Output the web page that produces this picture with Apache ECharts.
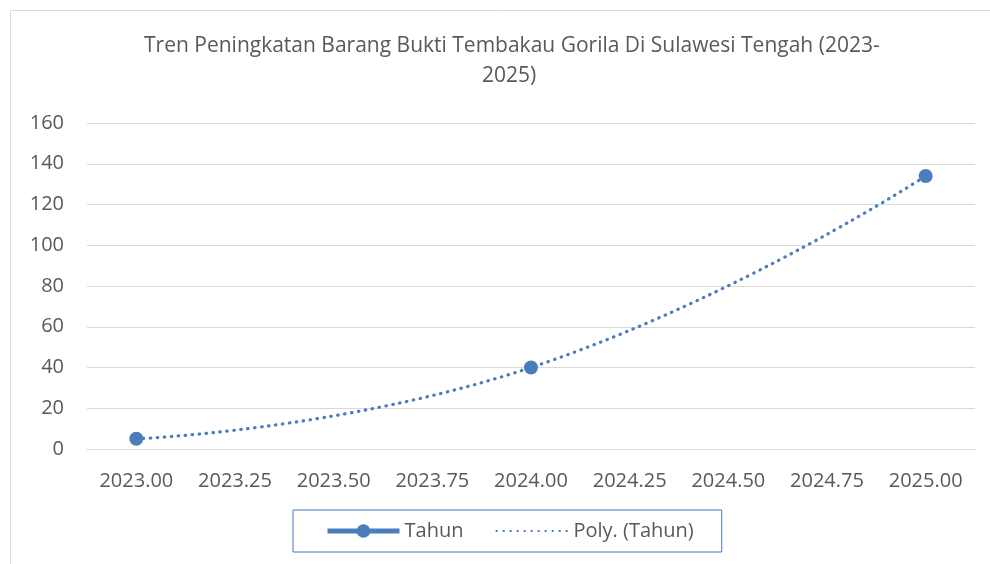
<!DOCTYPE html>
<html>
<head>
<meta charset="utf-8">
<script src="https://cdn.jsdelivr.net/npm/echarts@6/dist/echarts.min.js"></script>
<style>
html,body{margin:0;padding:0;background:#fff;}
#chart{width:990px;height:564px;}
</style>
</head>
<body>
<div id="chart"></div>
<script>
var titleLines = ['Tren Peningkatan Barang Bukti Tembakau Gorila Di Sulawesi Tengah (2023-', '2025)'];
var categories = ['2023.00','2023.25','2023.50','2023.75','2024.00','2024.25','2024.50','2024.75','2025.00'];
var tahunValues = [5, null, null, null, 40, null, null, null, 134];
var yTicks = [0, 20, 40, 60, 80, 100, 120, 140, 160];
var seriesNames = ['Tahun', 'Poly. (Tahun)'];

var FONT = '"Open Sans", "Noto Sans", sans-serif';
var GREY = '#595959';
var BLUE = '#4a7ebb';
var titleStyle = {fontFamily: FONT, fontSize: 21, fontWeight: 'normal', color: GREY};

var chart = echarts.init(document.getElementById('chart'));
chart.setOption({
  animation: false,
  backgroundColor: '#fff',
  graphic: [{
    type: 'rect',
    shape: {x: 10.5, y: 10.5, width: 1000, height: 600},
    style: {fill: null, stroke: '#d9d9d9', lineWidth: 1},
    silent: true
  }],
  title: [
    {text: titleLines[0], left: 139, top: 31, textStyle: titleStyle},
    {text: titleLines[1], left: 477, top: 61, textStyle: titleStyle}
  ],
  legend: {
    data: [
      {name: seriesNames[0], lineStyle: {width: 5}},
      {name: seriesNames[1], itemStyle: {opacity: 0}}
    ],
    left: 293,
    top: 510,
    borderColor: '#4472c4',
    borderWidth: 1,
    padding: [11, 28, 11, 32],
    itemWidth: 72,
    itemHeight: 17,
    itemGap: 32,
    textStyle: {fontFamily: FONT, fontSize: 20, color: GREY}
  },
  grid: {left: 87, right: 15, top: 123, bottom: 115, containLabel: false},
  xAxis: {
    type: 'category',
    data: categories,
    boundaryGap: true,
    axisLine: {show: true, lineStyle: {color: '#d9d9d9', width: 1}},
    axisTick: {show: false},
    axisLabel: {fontFamily: FONT, fontSize: 20, color: GREY, margin: 22, interval: 0},
    splitLine: {show: false}
  },
  yAxis: {
    type: 'value',
    min: yTicks[0],
    max: yTicks[yTicks.length - 1],
    interval: yTicks[1] - yTicks[0],
    axisLine: {show: false},
    axisTick: {show: false},
    axisLabel: {fontFamily: FONT, fontSize: 20, color: GREY, margin: 23},
    splitLine: {lineStyle: {color: '#d9d9d9', width: 1}}
  },
  series: [
    {
      name: seriesNames[0],
      type: 'line',
      data: tahunValues,
      connectNulls: false,
      symbol: 'circle',
      symbolSize: 14,
      itemStyle: {color: BLUE},
      lineStyle: {color: BLUE, width: 4.5},
      z: 3
    },
    {
      name: seriesNames[1],
      type: 'line',
      data: tahunValues,
      connectNulls: true,
      smooth: 0.5,
      symbol: 'none',
      showSymbol: false,
      itemStyle: {color: BLUE},
      lineStyle: {color: BLUE, width: 3.2, type: [0.5, 6.5], cap: 'round'},
      z: 2
    }
  ]
});
</script>
</body>
</html>
